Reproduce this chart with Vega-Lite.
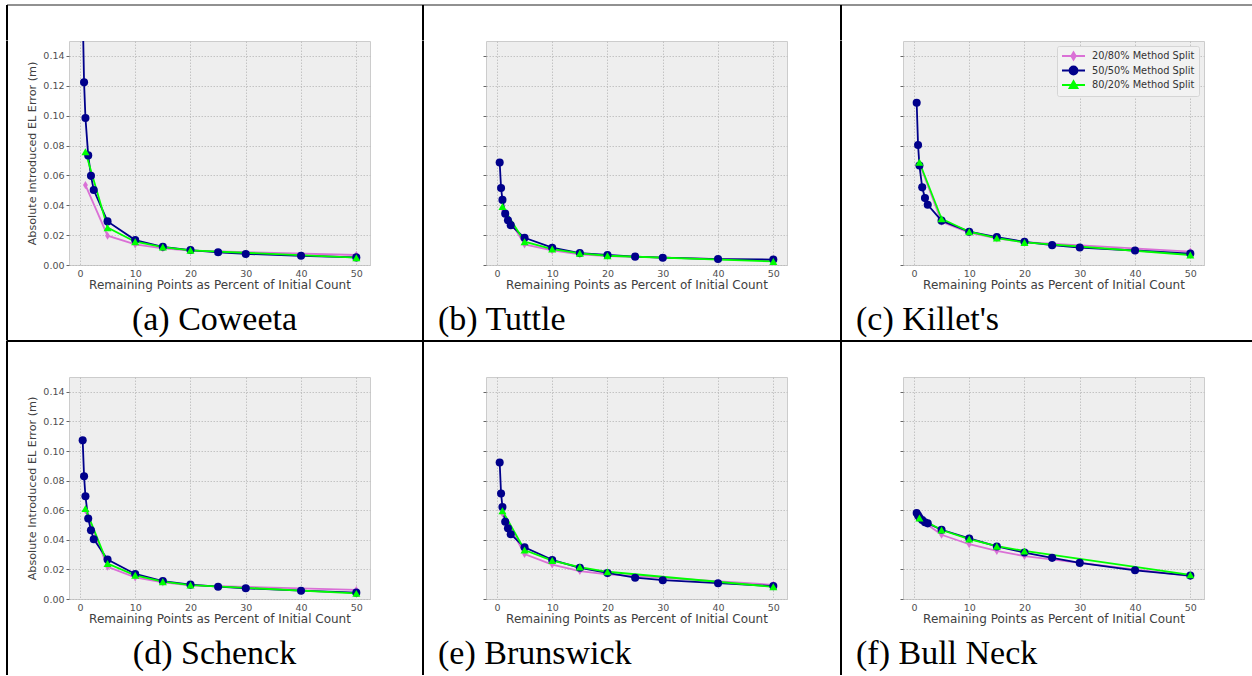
{
"$schema": "https://vega.github.io/schema/vega-lite/v6.json",
"padding": {"left": 6, "top": 4, "right": 0, "bottom": 0},
"background": "white",
"datasets": {"d": [
{"site":"Coweeta","series":"20/80% Method Split","pct":1,"err":0.0535},
{"site":"Coweeta","series":"20/80% Method Split","pct":5,"err":0.0196},
{"site":"Coweeta","series":"20/80% Method Split","pct":10,"err":0.0138},
{"site":"Coweeta","series":"20/80% Method Split","pct":15,"err":0.0112},
{"site":"Coweeta","series":"20/80% Method Split","pct":20,"err":0.0096},
{"site":"Coweeta","series":"20/80% Method Split","pct":50,"err":0.0067},
{"site":"Coweeta","series":"50/50% Method Split","pct":0.5,"err":0.17},
{"site":"Coweeta","series":"50/50% Method Split","pct":0.75,"err":0.1224},
{"site":"Coweeta","series":"50/50% Method Split","pct":1,"err":0.0985},
{"site":"Coweeta","series":"50/50% Method Split","pct":1.5,"err":0.0734},
{"site":"Coweeta","series":"50/50% Method Split","pct":2,"err":0.0597},
{"site":"Coweeta","series":"50/50% Method Split","pct":2.5,"err":0.0502},
{"site":"Coweeta","series":"50/50% Method Split","pct":5,"err":0.0292},
{"site":"Coweeta","series":"50/50% Method Split","pct":10,"err":0.0167},
{"site":"Coweeta","series":"50/50% Method Split","pct":15,"err":0.0122},
{"site":"Coweeta","series":"50/50% Method Split","pct":20,"err":0.0100},
{"site":"Coweeta","series":"50/50% Method Split","pct":25,"err":0.0085},
{"site":"Coweeta","series":"50/50% Method Split","pct":30,"err":0.0074},
{"site":"Coweeta","series":"50/50% Method Split","pct":40,"err":0.0062},
{"site":"Coweeta","series":"50/50% Method Split","pct":50,"err":0.0051},
{"site":"Coweeta","series":"80/20% Method Split","pct":1,"err":0.0758},
{"site":"Coweeta","series":"80/20% Method Split","pct":5,"err":0.0250},
{"site":"Coweeta","series":"80/20% Method Split","pct":10,"err":0.0156},
{"site":"Coweeta","series":"80/20% Method Split","pct":15,"err":0.0120},
{"site":"Coweeta","series":"80/20% Method Split","pct":20,"err":0.0098},
{"site":"Coweeta","series":"80/20% Method Split","pct":50,"err":0.0049},
{"site":"Tuttle","series":"20/80% Method Split","pct":1,"err":0.0380},
{"site":"Tuttle","series":"20/80% Method Split","pct":5,"err":0.0138},
{"site":"Tuttle","series":"20/80% Method Split","pct":10,"err":0.0098},
{"site":"Tuttle","series":"20/80% Method Split","pct":15,"err":0.0071},
{"site":"Tuttle","series":"20/80% Method Split","pct":20,"err":0.0060},
{"site":"Tuttle","series":"20/80% Method Split","pct":50,"err":0.0031},
{"site":"Tuttle","series":"50/50% Method Split","pct":0.5,"err":0.0687},
{"site":"Tuttle","series":"50/50% Method Split","pct":0.75,"err":0.0516},
{"site":"Tuttle","series":"50/50% Method Split","pct":1,"err":0.0436},
{"site":"Tuttle","series":"50/50% Method Split","pct":1.5,"err":0.0344},
{"site":"Tuttle","series":"50/50% Method Split","pct":2,"err":0.0300},
{"site":"Tuttle","series":"50/50% Method Split","pct":2.5,"err":0.0267},
{"site":"Tuttle","series":"50/50% Method Split","pct":5,"err":0.0182},
{"site":"Tuttle","series":"50/50% Method Split","pct":10,"err":0.0116},
{"site":"Tuttle","series":"50/50% Method Split","pct":15,"err":0.0080},
{"site":"Tuttle","series":"50/50% Method Split","pct":20,"err":0.0067},
{"site":"Tuttle","series":"50/50% Method Split","pct":25,"err":0.0056},
{"site":"Tuttle","series":"50/50% Method Split","pct":30,"err":0.0049},
{"site":"Tuttle","series":"50/50% Method Split","pct":40,"err":0.0040},
{"site":"Tuttle","series":"50/50% Method Split","pct":50,"err":0.0036},
{"site":"Tuttle","series":"80/20% Method Split","pct":1,"err":0.0391},
{"site":"Tuttle","series":"80/20% Method Split","pct":5,"err":0.0156},
{"site":"Tuttle","series":"80/20% Method Split","pct":10,"err":0.0107},
{"site":"Tuttle","series":"80/20% Method Split","pct":15,"err":0.0078},
{"site":"Tuttle","series":"80/20% Method Split","pct":20,"err":0.0062},
{"site":"Tuttle","series":"80/20% Method Split","pct":50,"err":0.0024},
{"site":"Killet's","series":"20/80% Method Split","pct":1,"err":0.0680},
{"site":"Killet's","series":"20/80% Method Split","pct":5,"err":0.0290},
{"site":"Killet's","series":"20/80% Method Split","pct":10,"err":0.0216},
{"site":"Killet's","series":"20/80% Method Split","pct":15,"err":0.0178},
{"site":"Killet's","series":"20/80% Method Split","pct":20,"err":0.0153},
{"site":"Killet's","series":"20/80% Method Split","pct":50,"err":0.0090},
{"site":"Killet's","series":"50/50% Method Split","pct":0.5,"err":0.1087},
{"site":"Killet's","series":"50/50% Method Split","pct":0.75,"err":0.0803},
{"site":"Killet's","series":"50/50% Method Split","pct":1,"err":0.0666},
{"site":"Killet's","series":"50/50% Method Split","pct":1.5,"err":0.0520},
{"site":"Killet's","series":"50/50% Method Split","pct":2,"err":0.0448},
{"site":"Killet's","series":"50/50% Method Split","pct":2.5,"err":0.0403},
{"site":"Killet's","series":"50/50% Method Split","pct":5,"err":0.0297},
{"site":"Killet's","series":"50/50% Method Split","pct":10,"err":0.0223},
{"site":"Killet's","series":"50/50% Method Split","pct":15,"err":0.0187},
{"site":"Killet's","series":"50/50% Method Split","pct":20,"err":0.0155},
{"site":"Killet's","series":"50/50% Method Split","pct":25,"err":0.0133},
{"site":"Killet's","series":"50/50% Method Split","pct":30,"err":0.0117},
{"site":"Killet's","series":"50/50% Method Split","pct":40,"err":0.0097},
{"site":"Killet's","series":"50/50% Method Split","pct":50,"err":0.0076},
{"site":"Killet's","series":"80/20% Method Split","pct":1,"err":0.0688},
{"site":"Killet's","series":"80/20% Method Split","pct":5,"err":0.0310},
{"site":"Killet's","series":"80/20% Method Split","pct":10,"err":0.0223},
{"site":"Killet's","series":"80/20% Method Split","pct":15,"err":0.0180},
{"site":"Killet's","series":"80/20% Method Split","pct":20,"err":0.0151},
{"site":"Killet's","series":"80/20% Method Split","pct":50,"err":0.0067},
{"site":"Schenck","series":"20/80% Method Split","pct":1,"err":0.0600},
{"site":"Schenck","series":"20/80% Method Split","pct":5,"err":0.0218},
{"site":"Schenck","series":"20/80% Method Split","pct":10,"err":0.0146},
{"site":"Schenck","series":"20/80% Method Split","pct":15,"err":0.0112},
{"site":"Schenck","series":"20/80% Method Split","pct":20,"err":0.0092},
{"site":"Schenck","series":"20/80% Method Split","pct":50,"err":0.0061},
{"site":"Schenck","series":"50/50% Method Split","pct":0.5,"err":0.1072},
{"site":"Schenck","series":"50/50% Method Split","pct":0.75,"err":0.0829},
{"site":"Schenck","series":"50/50% Method Split","pct":1,"err":0.0694},
{"site":"Schenck","series":"50/50% Method Split","pct":1.5,"err":0.0544},
{"site":"Schenck","series":"50/50% Method Split","pct":2,"err":0.0465},
{"site":"Schenck","series":"50/50% Method Split","pct":2.5,"err":0.0404},
{"site":"Schenck","series":"50/50% Method Split","pct":5,"err":0.0267},
{"site":"Schenck","series":"50/50% Method Split","pct":10,"err":0.0169},
{"site":"Schenck","series":"50/50% Method Split","pct":15,"err":0.0121},
{"site":"Schenck","series":"50/50% Method Split","pct":20,"err":0.0097},
{"site":"Schenck","series":"50/50% Method Split","pct":25,"err":0.0083},
{"site":"Schenck","series":"50/50% Method Split","pct":30,"err":0.0072},
{"site":"Schenck","series":"50/50% Method Split","pct":40,"err":0.0056},
{"site":"Schenck","series":"50/50% Method Split","pct":50,"err":0.0043},
{"site":"Schenck","series":"80/20% Method Split","pct":1,"err":0.0611},
{"site":"Schenck","series":"80/20% Method Split","pct":5,"err":0.0240},
{"site":"Schenck","series":"80/20% Method Split","pct":10,"err":0.0160},
{"site":"Schenck","series":"80/20% Method Split","pct":15,"err":0.0117},
{"site":"Schenck","series":"80/20% Method Split","pct":20,"err":0.0094},
{"site":"Schenck","series":"80/20% Method Split","pct":50,"err":0.0038},
{"site":"Brunswick","series":"20/80% Method Split","pct":1,"err":0.0578},
{"site":"Brunswick","series":"20/80% Method Split","pct":5,"err":0.0304},
{"site":"Brunswick","series":"20/80% Method Split","pct":10,"err":0.0233},
{"site":"Brunswick","series":"20/80% Method Split","pct":15,"err":0.0189},
{"site":"Brunswick","series":"20/80% Method Split","pct":20,"err":0.0167},
{"site":"Brunswick","series":"20/80% Method Split","pct":50,"err":0.0096},
{"site":"Brunswick","series":"50/50% Method Split","pct":0.5,"err":0.0922},
{"site":"Brunswick","series":"50/50% Method Split","pct":0.75,"err":0.0713},
{"site":"Brunswick","series":"50/50% Method Split","pct":1,"err":0.0622},
{"site":"Brunswick","series":"50/50% Method Split","pct":1.5,"err":0.0522},
{"site":"Brunswick","series":"50/50% Method Split","pct":2,"err":0.0478},
{"site":"Brunswick","series":"50/50% Method Split","pct":2.5,"err":0.0438},
{"site":"Brunswick","series":"50/50% Method Split","pct":5,"err":0.0349},
{"site":"Brunswick","series":"50/50% Method Split","pct":10,"err":0.0264},
{"site":"Brunswick","series":"50/50% Method Split","pct":15,"err":0.0211},
{"site":"Brunswick","series":"50/50% Method Split","pct":20,"err":0.0176},
{"site":"Brunswick","series":"50/50% Method Split","pct":25,"err":0.0144},
{"site":"Brunswick","series":"50/50% Method Split","pct":30,"err":0.0127},
{"site":"Brunswick","series":"50/50% Method Split","pct":40,"err":0.0107},
{"site":"Brunswick","series":"50/50% Method Split","pct":50,"err":0.0087},
{"site":"Brunswick","series":"80/20% Method Split","pct":1,"err":0.0596},
{"site":"Brunswick","series":"80/20% Method Split","pct":5,"err":0.0331},
{"site":"Brunswick","series":"80/20% Method Split","pct":10,"err":0.0260},
{"site":"Brunswick","series":"80/20% Method Split","pct":15,"err":0.0216},
{"site":"Brunswick","series":"80/20% Method Split","pct":20,"err":0.0184},
{"site":"Brunswick","series":"80/20% Method Split","pct":50,"err":0.0082},
{"site":"Bull Neck","series":"20/80% Method Split","pct":1,"err":0.0540},
{"site":"Bull Neck","series":"20/80% Method Split","pct":5,"err":0.0434},
{"site":"Bull Neck","series":"20/80% Method Split","pct":10,"err":0.0370},
{"site":"Bull Neck","series":"20/80% Method Split","pct":15,"err":0.0325},
{"site":"Bull Neck","series":"20/80% Method Split","pct":20,"err":0.0290},
{"site":"Bull Neck","series":"20/80% Method Split","pct":50,"err":0.0154},
{"site":"Bull Neck","series":"50/50% Method Split","pct":0.5,"err":0.0581},
{"site":"Bull Neck","series":"50/50% Method Split","pct":0.75,"err":0.0565},
{"site":"Bull Neck","series":"50/50% Method Split","pct":1,"err":0.0551},
{"site":"Bull Neck","series":"50/50% Method Split","pct":1.5,"err":0.0533},
{"site":"Bull Neck","series":"50/50% Method Split","pct":2,"err":0.0518},
{"site":"Bull Neck","series":"50/50% Method Split","pct":2.5,"err":0.0511},
{"site":"Bull Neck","series":"50/50% Method Split","pct":5,"err":0.0468},
{"site":"Bull Neck","series":"50/50% Method Split","pct":10,"err":0.0409},
{"site":"Bull Neck","series":"50/50% Method Split","pct":15,"err":0.0355},
{"site":"Bull Neck","series":"50/50% Method Split","pct":20,"err":0.0314},
{"site":"Bull Neck","series":"50/50% Method Split","pct":25,"err":0.0278},
{"site":"Bull Neck","series":"50/50% Method Split","pct":30,"err":0.0244},
{"site":"Bull Neck","series":"50/50% Method Split","pct":40,"err":0.0194},
{"site":"Bull Neck","series":"50/50% Method Split","pct":50,"err":0.0158},
{"site":"Bull Neck","series":"80/20% Method Split","pct":1,"err":0.0547},
{"site":"Bull Neck","series":"80/20% Method Split","pct":5,"err":0.0466},
{"site":"Bull Neck","series":"80/20% Method Split","pct":10,"err":0.0405},
{"site":"Bull Neck","series":"80/20% Method Split","pct":15,"err":0.0357},
{"site":"Bull Neck","series":"80/20% Method Split","pct":20,"err":0.0325},
{"site":"Bull Neck","series":"80/20% Method Split","pct":50,"err":0.0163}
], "one": [{}]},
"config": {
 "view": {"stroke": null},
 "axis": {"labelFont": "DejaVu Sans", "labelFontSize": 9.5, "labelColor": "#505050", "titleFont": "DejaVu Sans", "titleFontSize": 12, "titleFontWeight": "normal", "titleColor": "#404040", "domain": false, "gridColor": "#b8b8b8", "gridDash": [1.5, 1.5], "gridWidth": 0.8, "tickColor": "#666666", "tickSize": 3},
 "axisX": {"ticks": false, "labelPadding": 3, "titlePadding": 2},
 "axisY": {"labelPadding": 2, "titlePadding": 5, "titleFontSize": 11.2}
},
"columns": 6, "spacing": 0, "bounds": "flush", "align": "each",
"resolve": {"scale": {"color": "independent", "shape": "independent", "fill": "independent", "stroke": "independent"}},
"concat": [
 {"width": 62, "height": 35.5, "data": {"name": "one"}, "layer": [
   {"mark": {"type": "rule", "color": "#222222", "strokeWidth": 1}, "encoding": {"y": {"datum": 1, "type": "quantitative", "scale": {"domain": [0, 1]}, "axis": null}}},
   {"mark": {"type": "rule", "color": "black", "strokeWidth": 2}, "encoding": {"x": {"datum": 0, "type": "quantitative", "scale": {"domain": [0, 1]}, "axis": null}}}]},
 {"width": 354, "height": 35.5, "data": {"name": "one"}, "mark": {"type": "rule", "color": "#222222", "strokeWidth": 1}, "encoding": {"y": {"datum": 1, "type": "quantitative", "scale": {"domain": [0, 1]}, "axis": null}}},
 {"width": 63, "height": 35.5, "data": {"name": "one"}, "layer": [
   {"mark": {"type": "rule", "color": "#222222", "strokeWidth": 1}, "encoding": {"y": {"datum": 1, "type": "quantitative", "scale": {"domain": [0, 1]}, "axis": null}}},
   {"mark": {"type": "rule", "color": "black", "strokeWidth": 2}, "encoding": {"x": {"datum": 0, "type": "quantitative", "scale": {"domain": [0, 1]}, "axis": null}}}]},
 {"width": 355, "height": 35.5, "data": {"name": "one"}, "mark": {"type": "rule", "color": "#222222", "strokeWidth": 1}, "encoding": {"y": {"datum": 1, "type": "quantitative", "scale": {"domain": [0, 1]}, "axis": null}}},
 {"width": 62, "height": 35.5, "data": {"name": "one"}, "layer": [
   {"mark": {"type": "rule", "color": "#222222", "strokeWidth": 1}, "encoding": {"y": {"datum": 1, "type": "quantitative", "scale": {"domain": [0, 1]}, "axis": null}}},
   {"mark": {"type": "rule", "color": "black", "strokeWidth": 2}, "encoding": {"x": {"datum": 0, "type": "quantitative", "scale": {"domain": [0, 1]}, "axis": null}}}]},
 {"width": 349, "height": 35.5, "data": {"name": "one"}, "mark": {"type": "rule", "color": "#222222", "strokeWidth": 1}, "encoding": {"y": {"datum": 1, "type": "quantitative", "scale": {"domain": [0, 1]}, "axis": null}}},

 {"width": 62, "height": 224, "data": {"name": "one"}, "mark": {"type": "rule", "color": "black", "strokeWidth": 2}, "encoding": {"x": {"datum": 0, "type": "quantitative", "scale": {"domain": [0, 1]}, "axis": null}}},
 {"width": 301, "height": 224, "view": {"fill": "#eeeeee", "stroke": "#cccccc"},
  "data": {"name": "d"}, "transform": [{"filter": "datum.site === 'Coweeta'"}],
  "title": {"text": "(a) Coweeta", "orient": "bottom", "anchor": "middle", "frame": "group", "dx": -5, "offset": 12, "font": "Liberation Serif", "fontSize": 34, "fontWeight": "normal", "color": "black", "baseline": "top"},
  "encoding": {
    "x": {"field": "pct", "type": "quantitative", "scale": {"domain": [-1.975, 52.475], "nice": false, "zero": false}, "axis": {"values": [0,10,20,30,40,50], "title": "Remaining Points as Percent of Initial Count"}},
    "y": {"field": "err", "type": "quantitative", "scale": {"domain": [0, 0.15], "nice": false}, "axis": {"values": [0,0.02,0.04,0.06,0.08,0.1,0.12,0.14], "format": ".2f", "title": "Absolute Introduced EL Error (m)"}},
    "color": {"field": "series", "type": "nominal", "scale": {"domain": ["20/80% Method Split","50/50% Method Split","80/20% Method Split"], "range": ["#DA70D6","#00008B","#00FF00"]}, "legend": null}
  },
  "layer": [
    {"mark": {"type": "line", "strokeWidth": 1.8, "clip": true}},
    {"mark": {"type": "point", "filled": true, "opacity": 1, "size": 65, "clip": true},
     "encoding": {"shape": {"field": "series", "type": "nominal", "scale": {"domain": ["20/80% Method Split","50/50% Method Split","80/20% Method Split"], "range": ["M0,-1L0.6,0L0,1L-0.6,0Z","circle","triangle-up"]}, "legend": null}}}
  ]},
 {"width": 63, "height": 224, "data": {"name": "one"}, "mark": {"type": "rule", "color": "black", "strokeWidth": 2}, "encoding": {"x": {"datum": 0, "type": "quantitative", "scale": {"domain": [0, 1]}, "axis": null}}},
 {"width": 301, "height": 224, "view": {"fill": "#eeeeee", "stroke": "#cccccc"},
  "data": {"name": "d"}, "transform": [{"filter": "datum.site === 'Tuttle'"}],
  "title": {"text": "(b) Tuttle", "orient": "bottom", "anchor": "start", "frame": "group", "dx": -48, "offset": 12, "font": "Liberation Serif", "fontSize": 34, "fontWeight": "normal", "color": "black", "baseline": "top"},
  "encoding": {
    "x": {"field": "pct", "type": "quantitative", "scale": {"domain": [-1.975, 52.475], "nice": false, "zero": false}, "axis": {"values": [0,10,20,30,40,50], "title": "Remaining Points as Percent of Initial Count"}},
    "y": {"field": "err", "type": "quantitative", "scale": {"domain": [0, 0.15], "nice": false}, "axis": {"values": [0,0.02,0.04,0.06,0.08,0.1,0.12,0.14], "labels": false, "title": null}},
    "color": {"field": "series", "type": "nominal", "scale": {"domain": ["20/80% Method Split","50/50% Method Split","80/20% Method Split"], "range": ["#DA70D6","#00008B","#00FF00"]}, "legend": null}
  },
  "layer": [
    {"mark": {"type": "line", "strokeWidth": 1.8, "clip": true}},
    {"mark": {"type": "point", "filled": true, "opacity": 1, "size": 65, "clip": true},
     "encoding": {"shape": {"field": "series", "type": "nominal", "scale": {"domain": ["20/80% Method Split","50/50% Method Split","80/20% Method Split"], "range": ["M0,-1L0.6,0L0,1L-0.6,0Z","circle","triangle-up"]}, "legend": null}}}
  ]},
 {"width": 62, "height": 224, "data": {"name": "one"}, "mark": {"type": "rule", "color": "black", "strokeWidth": 2}, "encoding": {"x": {"datum": 0, "type": "quantitative", "scale": {"domain": [0, 1]}, "axis": null}}},
 {"width": 301, "height": 224, "view": {"fill": "#eeeeee", "stroke": "#cccccc"},
  "data": {"name": "d"}, "transform": [{"filter": "datum.site === \"Killet's\""}],
  "title": {"text": "(c) Killet's", "orient": "bottom", "anchor": "start", "frame": "group", "dx": -47, "offset": 12, "font": "Liberation Serif", "fontSize": 34, "fontWeight": "normal", "color": "black", "baseline": "top"},
  "resolve": {"scale": {"shape": "independent", "fill": "independent", "stroke": "independent"}},
  "encoding": {
    "x": {"field": "pct", "type": "quantitative", "scale": {"domain": [-1.975, 52.475], "nice": false, "zero": false}, "axis": {"values": [0,10,20,30,40,50], "title": "Remaining Points as Percent of Initial Count"}},
    "y": {"field": "err", "type": "quantitative", "scale": {"domain": [0, 0.15], "nice": false}, "axis": {"values": [0,0.02,0.04,0.06,0.08,0.1,0.12,0.14], "labels": false, "title": null}}
  },
  "layer": [
    {"mark": {"type": "line", "strokeWidth": 1.8, "clip": true},
     "encoding": {"color": {"field": "series", "type": "nominal", "scale": {"domain": ["20/80% Method Split","50/50% Method Split","80/20% Method Split"], "range": ["#DA70D6","#00008B","#00FF00"]}, "legend": null}}},
    {"mark": {"type": "point", "filled": true, "opacity": 1, "size": 65, "clip": true},
     "encoding": {
       "color": {"field": "series", "type": "nominal", "scale": {"domain": ["20/80% Method Split","50/50% Method Split","80/20% Method Split"], "range": ["#DA70D6","#00008B","#00FF00"]}, "legend": null},
       "shape": {"field": "series", "type": "nominal", "scale": {"domain": ["20/80% Method Split","50/50% Method Split","80/20% Method Split"], "range": ["M0,-1L0.6,0L0,1L-0.6,0Z","circle","triangle-up"]}, "legend": null}}},
    {"mark": {"type": "point", "filled": true, "opacity": 0, "size": 100, "clip": true},
     "encoding": {
       "shape": {"field": "series", "type": "nominal", "scale": {"domain": ["20/80% Method Split","50/50% Method Split","80/20% Method Split"], "range": ["M-1,0H3.6M1.3,-0.75L1.75,0L1.3,0.75L0.85,0Z","M-1,0H3.6M0.5,0A0.8,0.8 0 1,0 2.1,0A0.8,0.8 0 1,0 0.5,0Z","M-1,0H3.6M1.3,-0.8L2.1,0.6L0.5,0.6Z"]},
         "legend": {"orient": "top-right", "offset": 5, "title": null, "fillColor": "#f2f2f2", "strokeColor": "#d5d5d5", "padding": 4, "cornerRadius": 2, "labelFont": "DejaVu Sans", "labelFontSize": 9.8, "labelColor": "#333333", "symbolSize": 100, "labelOffset": 19, "rowPadding": -1.5, "symbolStrokeWidth": 1.8, "symbolOpacity": 1}},
       "fill": {"field": "series", "type": "nominal", "scale": {"domain": ["20/80% Method Split","50/50% Method Split","80/20% Method Split"], "range": ["#DA70D6","#00008B","#00FF00"]},
         "legend": {"orient": "top-right", "offset": 5, "title": null, "fillColor": "#f2f2f2", "strokeColor": "#d5d5d5", "padding": 4, "cornerRadius": 2, "labelFont": "DejaVu Sans", "labelFontSize": 9.8, "labelColor": "#333333", "symbolSize": 100, "labelOffset": 19, "rowPadding": -1.5, "symbolStrokeWidth": 1.8, "symbolOpacity": 1}},
       "stroke": {"field": "series", "type": "nominal", "scale": {"domain": ["20/80% Method Split","50/50% Method Split","80/20% Method Split"], "range": ["#DA70D6","#00008B","#00FF00"]},
         "legend": {"orient": "top-right", "offset": 5, "title": null, "fillColor": "#f2f2f2", "strokeColor": "#d5d5d5", "padding": 4, "cornerRadius": 2, "labelFont": "DejaVu Sans", "labelFontSize": 9.8, "labelColor": "#333333", "symbolSize": 100, "labelOffset": 19, "rowPadding": -1.5, "symbolStrokeWidth": 1.8, "symbolOpacity": 1}}}}
  ]},

 {"width": 62, "height": 75.5, "data": {"name": "one"}, "mark": {"type": "rule", "color": "black", "strokeWidth": 2}, "encoding": {"x": {"datum": 0, "type": "quantitative", "scale": {"domain": [0, 1]}, "axis": null}}},
 {"width": 354, "height": 75.5, "mark": {"type": "rule", "opacity": 0}, "encoding": {}},
 {"width": 63, "height": 75.5, "data": {"name": "one"}, "mark": {"type": "rule", "color": "black", "strokeWidth": 2}, "encoding": {"x": {"datum": 0, "type": "quantitative", "scale": {"domain": [0, 1]}, "axis": null}}},
 {"width": 355, "height": 75.5, "mark": {"type": "rule", "opacity": 0}, "encoding": {}},
 {"width": 62, "height": 75.5, "data": {"name": "one"}, "mark": {"type": "rule", "color": "black", "strokeWidth": 2}, "encoding": {"x": {"datum": 0, "type": "quantitative", "scale": {"domain": [0, 1]}, "axis": null}}},
 {"width": 349, "height": 75.5, "mark": {"type": "rule", "opacity": 0}, "encoding": {}},

 {"width": 62, "height": 36, "data": {"name": "one"}, "layer": [
   {"mark": {"type": "rule", "color": "black", "strokeWidth": 2}, "encoding": {"y": {"datum": 1, "type": "quantitative", "scale": {"domain": [0, 1]}, "axis": null}}},
   {"mark": {"type": "rule", "color": "black", "strokeWidth": 2}, "encoding": {"x": {"datum": 0, "type": "quantitative", "scale": {"domain": [0, 1]}, "axis": null}}}]},
 {"width": 354, "height": 36, "data": {"name": "one"}, "mark": {"type": "rule", "color": "black", "strokeWidth": 2}, "encoding": {"y": {"datum": 1, "type": "quantitative", "scale": {"domain": [0, 1]}, "axis": null}}},
 {"width": 63, "height": 36, "data": {"name": "one"}, "layer": [
   {"mark": {"type": "rule", "color": "black", "strokeWidth": 2}, "encoding": {"y": {"datum": 1, "type": "quantitative", "scale": {"domain": [0, 1]}, "axis": null}}},
   {"mark": {"type": "rule", "color": "black", "strokeWidth": 2}, "encoding": {"x": {"datum": 0, "type": "quantitative", "scale": {"domain": [0, 1]}, "axis": null}}}]},
 {"width": 355, "height": 36, "data": {"name": "one"}, "mark": {"type": "rule", "color": "black", "strokeWidth": 2}, "encoding": {"y": {"datum": 1, "type": "quantitative", "scale": {"domain": [0, 1]}, "axis": null}}},
 {"width": 62, "height": 36, "data": {"name": "one"}, "layer": [
   {"mark": {"type": "rule", "color": "black", "strokeWidth": 2}, "encoding": {"y": {"datum": 1, "type": "quantitative", "scale": {"domain": [0, 1]}, "axis": null}}},
   {"mark": {"type": "rule", "color": "black", "strokeWidth": 2}, "encoding": {"x": {"datum": 0, "type": "quantitative", "scale": {"domain": [0, 1]}, "axis": null}}}]},
 {"width": 349, "height": 36, "data": {"name": "one"}, "mark": {"type": "rule", "color": "black", "strokeWidth": 2}, "encoding": {"y": {"datum": 1, "type": "quantitative", "scale": {"domain": [0, 1]}, "axis": null}}},

 {"width": 62, "height": 222, "data": {"name": "one"}, "mark": {"type": "rule", "color": "black", "strokeWidth": 2}, "encoding": {"x": {"datum": 0, "type": "quantitative", "scale": {"domain": [0, 1]}, "axis": null}}},
 {"width": 301, "height": 222, "view": {"fill": "#eeeeee", "stroke": "#cccccc"},
  "data": {"name": "d"}, "transform": [{"filter": "datum.site === 'Schenck'"}],
  "title": {"text": "(d) Schenck", "orient": "bottom", "anchor": "middle", "frame": "group", "dx": -5, "offset": 12, "font": "Liberation Serif", "fontSize": 34, "fontWeight": "normal", "color": "black", "baseline": "top"},
  "encoding": {
    "x": {"field": "pct", "type": "quantitative", "scale": {"domain": [-1.975, 52.475], "nice": false, "zero": false}, "axis": {"values": [0,10,20,30,40,50], "title": "Remaining Points as Percent of Initial Count"}},
    "y": {"field": "err", "type": "quantitative", "scale": {"domain": [0, 0.15], "nice": false}, "axis": {"values": [0,0.02,0.04,0.06,0.08,0.1,0.12,0.14], "format": ".2f", "title": "Absolute Introduced EL Error (m)"}},
    "color": {"field": "series", "type": "nominal", "scale": {"domain": ["20/80% Method Split","50/50% Method Split","80/20% Method Split"], "range": ["#DA70D6","#00008B","#00FF00"]}, "legend": null}
  },
  "layer": [
    {"mark": {"type": "line", "strokeWidth": 1.8, "clip": true}},
    {"mark": {"type": "point", "filled": true, "opacity": 1, "size": 65, "clip": true},
     "encoding": {"shape": {"field": "series", "type": "nominal", "scale": {"domain": ["20/80% Method Split","50/50% Method Split","80/20% Method Split"], "range": ["M0,-1L0.6,0L0,1L-0.6,0Z","circle","triangle-up"]}, "legend": null}}}
  ]},
 {"width": 63, "height": 222, "data": {"name": "one"}, "mark": {"type": "rule", "color": "black", "strokeWidth": 2}, "encoding": {"x": {"datum": 0, "type": "quantitative", "scale": {"domain": [0, 1]}, "axis": null}}},
 {"width": 301, "height": 222, "view": {"fill": "#eeeeee", "stroke": "#cccccc"},
  "data": {"name": "d"}, "transform": [{"filter": "datum.site === 'Brunswick'"}],
  "title": {"text": "(e) Brunswick", "orient": "bottom", "anchor": "start", "frame": "group", "dx": -48, "offset": 12, "font": "Liberation Serif", "fontSize": 34, "fontWeight": "normal", "color": "black", "baseline": "top"},
  "encoding": {
    "x": {"field": "pct", "type": "quantitative", "scale": {"domain": [-1.975, 52.475], "nice": false, "zero": false}, "axis": {"values": [0,10,20,30,40,50], "title": "Remaining Points as Percent of Initial Count"}},
    "y": {"field": "err", "type": "quantitative", "scale": {"domain": [0, 0.15], "nice": false}, "axis": {"values": [0,0.02,0.04,0.06,0.08,0.1,0.12,0.14], "labels": false, "title": null}},
    "color": {"field": "series", "type": "nominal", "scale": {"domain": ["20/80% Method Split","50/50% Method Split","80/20% Method Split"], "range": ["#DA70D6","#00008B","#00FF00"]}, "legend": null}
  },
  "layer": [
    {"mark": {"type": "line", "strokeWidth": 1.8, "clip": true}},
    {"mark": {"type": "point", "filled": true, "opacity": 1, "size": 65, "clip": true},
     "encoding": {"shape": {"field": "series", "type": "nominal", "scale": {"domain": ["20/80% Method Split","50/50% Method Split","80/20% Method Split"], "range": ["M0,-1L0.6,0L0,1L-0.6,0Z","circle","triangle-up"]}, "legend": null}}}
  ]},
 {"width": 62, "height": 222, "data": {"name": "one"}, "mark": {"type": "rule", "color": "black", "strokeWidth": 2}, "encoding": {"x": {"datum": 0, "type": "quantitative", "scale": {"domain": [0, 1]}, "axis": null}}},
 {"width": 301, "height": 222, "view": {"fill": "#eeeeee", "stroke": "#cccccc"},
  "data": {"name": "d"}, "transform": [{"filter": "datum.site === 'Bull Neck'"}],
  "title": {"text": "(f) Bull Neck", "orient": "bottom", "anchor": "start", "frame": "group", "dx": -47, "offset": 12, "font": "Liberation Serif", "fontSize": 34, "fontWeight": "normal", "color": "black", "baseline": "top"},
  "encoding": {
    "x": {"field": "pct", "type": "quantitative", "scale": {"domain": [-1.975, 52.475], "nice": false, "zero": false}, "axis": {"values": [0,10,20,30,40,50], "title": "Remaining Points as Percent of Initial Count"}},
    "y": {"field": "err", "type": "quantitative", "scale": {"domain": [0, 0.15], "nice": false}, "axis": {"values": [0,0.02,0.04,0.06,0.08,0.1,0.12,0.14], "labels": false, "title": null}},
    "color": {"field": "series", "type": "nominal", "scale": {"domain": ["20/80% Method Split","50/50% Method Split","80/20% Method Split"], "range": ["#DA70D6","#00008B","#00FF00"]}, "legend": null}
  },
  "layer": [
    {"mark": {"type": "line", "strokeWidth": 1.8, "clip": true}},
    {"mark": {"type": "point", "filled": true, "opacity": 1, "size": 65, "clip": true},
     "encoding": {"shape": {"field": "series", "type": "nominal", "scale": {"domain": ["20/80% Method Split","50/50% Method Split","80/20% Method Split"], "range": ["M0,-1L0.6,0L0,1L-0.6,0Z","circle","triangle-up"]}, "legend": null}}}
  ]},

 {"width": 62, "height": 76, "data": {"name": "one"}, "mark": {"type": "rule", "color": "black", "strokeWidth": 2}, "encoding": {"x": {"datum": 0, "type": "quantitative", "scale": {"domain": [0, 1]}, "axis": null}}},
 {"width": 354, "height": 76, "mark": {"type": "rule", "opacity": 0}, "encoding": {}},
 {"width": 63, "height": 76, "data": {"name": "one"}, "mark": {"type": "rule", "color": "black", "strokeWidth": 2}, "encoding": {"x": {"datum": 0, "type": "quantitative", "scale": {"domain": [0, 1]}, "axis": null}}},
 {"width": 355, "height": 76, "mark": {"type": "rule", "opacity": 0}, "encoding": {}},
 {"width": 62, "height": 76, "data": {"name": "one"}, "mark": {"type": "rule", "color": "black", "strokeWidth": 2}, "encoding": {"x": {"datum": 0, "type": "quantitative", "scale": {"domain": [0, 1]}, "axis": null}}},
 {"width": 349, "height": 76, "mark": {"type": "rule", "opacity": 0}, "encoding": {}}
]
}
